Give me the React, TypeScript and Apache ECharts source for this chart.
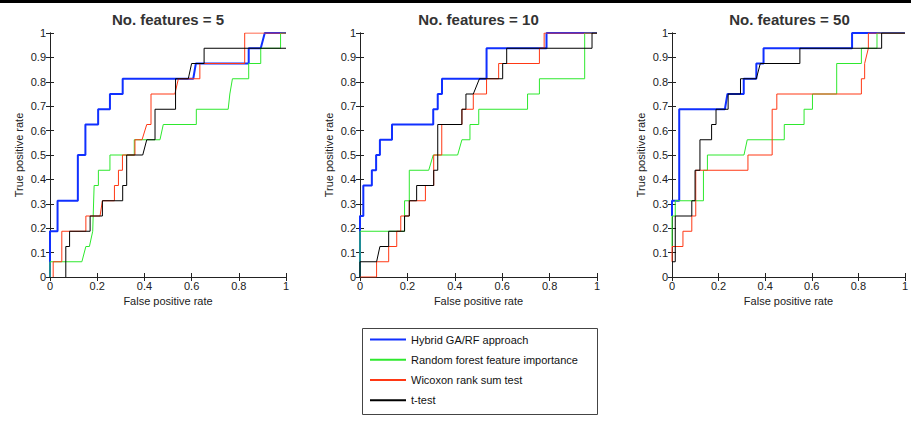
import React, { useEffect, useRef } from "react";
import * as echarts from "echarts";

const panelTitles = ["No. features = 5", "No. features = 10", "No. features = 50"];
const seriesNames = [
  "Hybrid GA/RF approach",
  "Random forest feature importance",
  "Wicoxon rank sum test",
  "t-test",
];
const xAxisName = "False positive rate";
const yAxisName = "True positive rate";

// Panel 1: No. features = 5  ([FPR, TPR])
const blue5 = [[0,0],[0,0.1875],[0.032,0.1875],[0.032,0.3125],[0.118,0.3125],[0.118,0.5],[0.15,0.5],[0.15,0.625],[0.204,0.625],[0.204,0.6875],[0.254,0.6875],[0.254,0.75],[0.308,0.75],[0.308,0.8125],[0.607,0.8125],[0.618,0.875],[0.842,0.875],[0.842,0.9375],[0.893,0.9375],[0.91,1],[1,1]];
const green5 = [[0,0],[0,0.0625],[0.135,0.0625],[0.152,0.125],[0.167,0.125],[0.181,0.1875],[0.187,0.375],[0.205,0.375],[0.205,0.4375],[0.254,0.4375],[0.254,0.5],[0.357,0.5],[0.357,0.5625],[0.466,0.5625],[0.48,0.625],[0.62,0.625],[0.62,0.6875],[0.755,0.6875],[0.762,0.75],[0.773,0.8125],[0.842,0.8125],[0.842,0.875],[0.893,0.875],[0.893,0.9375],[0.977,0.9375],[0.977,1],[1,1]];
const red5 = [[0.0135,0],[0.0135,0.0625],[0.05,0.0625],[0.05,0.1875],[0.152,0.1875],[0.152,0.25],[0.212,0.25],[0.222,0.3125],[0.273,0.3125],[0.273,0.375],[0.29,0.375],[0.29,0.4375],[0.307,0.4375],[0.307,0.5],[0.36,0.5],[0.36,0.5625],[0.39,0.5625],[0.41,0.625],[0.428,0.625],[0.428,0.75],[0.529,0.75],[0.544,0.8125],[0.635,0.8125],[0.635,0.875],[0.825,0.875],[0.825,1],[1,1]];
const black5 = [[0.067,0],[0.067,0.125],[0.083,0.125],[0.083,0.1875],[0.17,0.1875],[0.17,0.25],[0.222,0.25],[0.222,0.3125],[0.308,0.3125],[0.308,0.375],[0.325,0.375],[0.325,0.5],[0.393,0.5],[0.41,0.5625],[0.445,0.5625],[0.445,0.6875],[0.532,0.6875],[0.532,0.8125],[0.586,0.8125],[0.6,0.875],[0.653,0.875],[0.653,0.9375],[1,0.9375]];

// Panel 2: No. features = 10
const blue10 = [[0,0],[0,0.25],[0.014,0.25],[0.014,0.375],[0.05,0.375],[0.05,0.4375],[0.068,0.4375],[0.068,0.5],[0.084,0.5],[0.084,0.5625],[0.135,0.5625],[0.135,0.625],[0.309,0.625],[0.309,0.6875],[0.328,0.6875],[0.328,0.75],[0.346,0.75],[0.346,0.8125],[0.534,0.8125],[0.534,0.9375],[0.787,0.9375],[0.787,1],[1,1]];
const green10 = [[0,0],[0,0.1875],[0.188,0.1875],[0.188,0.3125],[0.208,0.3125],[0.208,0.4375],[0.29,0.4375],[0.309,0.5],[0.412,0.5],[0.43,0.5625],[0.464,0.5625],[0.464,0.625],[0.501,0.625],[0.501,0.6875],[0.707,0.6875],[0.707,0.75],[0.757,0.75],[0.757,0.8125],[0.948,0.8125],[0.948,1],[1,1]];
const red10 = [[0,0],[0.07,0],[0.07,0.0625],[0.121,0.0625],[0.121,0.125],[0.155,0.125],[0.155,0.1875],[0.172,0.1875],[0.172,0.25],[0.208,0.25],[0.208,0.3125],[0.276,0.3125],[0.276,0.375],[0.311,0.375],[0.311,0.5],[0.345,0.5],[0.345,0.625],[0.43,0.625],[0.43,0.6875],[0.478,0.6875],[0.478,0.75],[0.534,0.75],[0.534,0.8125],[0.585,0.8125],[0.585,0.875],[0.757,0.875],[0.757,0.9375],[0.777,0.9375],[0.777,1],[1,1]];
const black10 = [[0,0],[0,0.0625],[0.07,0.0625],[0.084,0.125],[0.121,0.125],[0.121,0.1875],[0.188,0.1875],[0.188,0.25],[0.208,0.25],[0.208,0.3125],[0.239,0.3125],[0.239,0.375],[0.311,0.375],[0.311,0.4375],[0.328,0.4375],[0.328,0.625],[0.43,0.625],[0.43,0.6875],[0.447,0.6875],[0.447,0.75],[0.478,0.75],[0.504,0.8125],[0.602,0.8125],[0.602,0.875],[0.619,0.875],[0.619,0.9375],[0.979,0.9375],[0.979,1],[1,1]];

// Panel 3: No. features = 50
const blue50 = [[0,0.25],[0,0.3125],[0.031,0.3125],[0.031,0.6875],[0.227,0.6875],[0.238,0.75],[0.308,0.75],[0.308,0.8125],[0.362,0.8125],[0.362,0.875],[0.393,0.875],[0.393,0.9375],[0.773,0.9375],[0.773,1],[1,1]];
const green50 = [[0,0.125],[0,0.25],[0.014,0.25],[0.014,0.3125],[0.135,0.3125],[0.135,0.4375],[0.152,0.4375],[0.152,0.5],[0.309,0.5],[0.323,0.5625],[0.482,0.5625],[0.482,0.625],[0.567,0.625],[0.567,0.6875],[0.603,0.6875],[0.603,0.75],[0.707,0.75],[0.707,0.875],[0.813,0.875],[0.813,0.9375],[0.88,0.9375],[0.88,1],[1,1]];
const red50 = [[0,0.0625],[0,0.125],[0.047,0.125],[0.047,0.1875],[0.085,0.1875],[0.085,0.25],[0.102,0.25],[0.102,0.4375],[0.326,0.4375],[0.326,0.5],[0.43,0.5],[0.43,0.6875],[0.45,0.6875],[0.45,0.75],[0.813,0.75],[0.813,0.8125],[0.827,0.8125],[0.827,0.875],[0.843,0.9375],[0.843,1],[1,1]];
const black50 = [[0,0.0625],[0.014,0.0625],[0.014,0.25],[0.085,0.25],[0.085,0.3125],[0.099,0.3125],[0.099,0.4375],[0.12,0.4375],[0.12,0.5625],[0.17,0.5625],[0.17,0.625],[0.189,0.625],[0.189,0.6875],[0.241,0.6875],[0.241,0.75],[0.294,0.75],[0.294,0.8125],[0.362,0.8125],[0.379,0.875],[0.549,0.875],[0.549,0.9375],[0.9,0.9375],[0.9,1],[1,1]];

const panelData = [
  [blue5, green5, red5, black5],
  [blue10, green10, red10, black10],
  [blue50, green50, red50, black50],
];

const colors = ["#1030ff", "#2ee82e", "#ff3814", "#000000"];
const widths = [2, 1, 1, 1];

const grids = [
  { left: 50, top: 33, width: 236, height: 244 },
  { left: 360, top: 33, width: 237, height: 244 },
  { left: 672, top: 33, width: 235, height: 244 },
];

const FONT = 'Arial, "Liberation Sans", sans-serif';

export default function App() {
  const ref = useRef<HTMLDivElement>(null);
  useEffect(() => {
    if (!ref.current) return;
    const chart = echarts.init(ref.current, null, { renderer: "svg" });
    const axisLine = { show: true, lineStyle: { color: "#222", width: 1 } };
    const axisTick = { show: true, inside: true, length: 4, lineStyle: { color: "#222" } };
    const xAxes: any[] = [];
    const yAxes: any[] = [];
    grids.forEach((_, i) => {
      xAxes.push({
        type: "value", gridIndex: i, min: 0, max: 1, interval: 0.2, position: "bottom",
        name: xAxisName, nameLocation: "middle", nameGap: 14,
        nameTextStyle: { fontFamily: FONT, fontSize: 11, color: "#222" },
        axisLine, axisTick,
        axisLabel: { fontFamily: FONT, fontSize: 11, color: "#222", margin: 3 },
        splitLine: { show: false },
      });
      yAxes.push({
        type: "value", gridIndex: i, min: 0, max: 1, interval: 0.1, position: "left",
        name: yAxisName, nameLocation: "middle", nameGap: 26,
        nameTextStyle: { fontFamily: FONT, fontSize: 11, color: "#222" },
        axisLine, axisTick,
        axisLabel: { fontFamily: FONT, fontSize: 11, color: "#222", margin: 4 },
        splitLine: { show: false },
      });
    });
    grids.forEach((_, i) => {
      xAxes.push({
        type: "value", gridIndex: i, min: 0, max: 1, interval: 0.2, position: "top",
        axisLine, axisTick, axisLabel: { show: false }, splitLine: { show: false },
      });
      yAxes.push({
        type: "value", gridIndex: i, min: 0, max: 1, interval: 0.1, position: "right",
        axisLine, axisTick, axisLabel: { show: false }, splitLine: { show: false },
      });
    });

    const series: any[] = [];
    panelData.forEach((curves, p) => {
      curves.forEach((data, s) => {
        series.push({
          type: "line",
          name: seriesNames[s],
          xAxisIndex: p,
          yAxisIndex: p,
          data,
          symbol: "none",
          showSymbol: false,
          lineStyle: { color: colors[s], width: widths[s] },
          itemStyle: { color: colors[s] },
          z: 2 + s,
          silent: true,
        });
      });
    });

    chart.setOption({
      animation: false,
      backgroundColor: "#ffffff",
      title: panelTitles.map((t, i) => ({
        text: t,
        left: grids[i].left + grids[i].width / 2,
        top: 12,
        padding: 0,
        textAlign: "center",
        textStyle: { fontFamily: FONT, fontSize: 15, fontWeight: "bold", color: "#333" },
      })),
      grid: grids.map((g) => ({ ...g, containLabel: false })),
      xAxis: xAxes,
      yAxis: yAxes,
      legend: {
        orient: "vertical",
        left: 369,
        top: 334,
        padding: 0,
        itemWidth: 36,
        itemHeight: 14,
        itemGap: 9,
        selectedMode: false,
        data: seriesNames,
        itemStyle: { opacity: 0, color: "rgba(0,0,0,0)", borderWidth: 0 },
        textStyle: { fontFamily: FONT, fontSize: 11, color: "#111" },
      },
      graphic: [
        { type: "rect", shape: { x: 0, y: 0, width: 911, height: 3 }, style: { fill: "#000" } },
        {
          type: "rect",
          shape: { x: 362.5, y: 328.5, width: 235, height: 86 },
          style: { fill: "none", stroke: "#444", lineWidth: 1 },
        },
      ],
      series,
    });
    return () => chart.dispose();
  }, []);
  return (
    <div
      ref={ref}
      style={{ position: "absolute", left: 0, top: 0, width: 911, height: 427, background: "#fff" }}
    />
  );
}
